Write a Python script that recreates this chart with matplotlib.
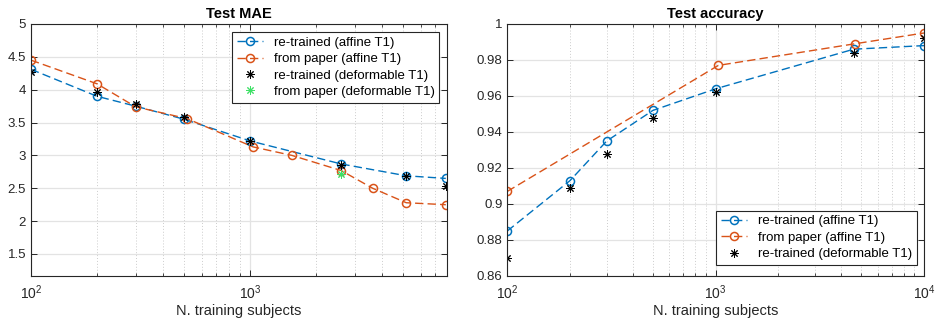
import math
import matplotlib
matplotlib.use("Agg")
import matplotlib.pyplot as plt
from matplotlib.ticker import FixedLocator, FuncFormatter, LogLocator, NullFormatter

plt.rcParams['font.family'] = ['Liberation Sans', 'DejaVu Sans']
plt.rcParams['mathtext.fontset'] = 'custom'
plt.rcParams['mathtext.rm'] = 'Liberation Sans'
plt.rcParams['mathtext.it'] = 'Liberation Sans'

# ---- Test MAE data ----
mae_x_retrained = [100, 200, 300, 500, 1000, 2600, 5150, 7800]
mae_retrained_affine = [4.31, 3.90, 3.75, 3.55, 3.22, 2.87, 2.69, 2.65]
mae_retrained_deform = [4.27, 3.97, 3.78, 3.58, 3.22, 2.86, 2.69, 2.53]
mae_x_paper = [100, 200, 300, 515, 1030, 1550, 2600, 3620, 5150, 7800]
mae_paper_affine = [4.45, 4.09, 3.74, 3.56, 3.13, 3.00, 2.77, 2.50, 2.28, 2.25]
mae_x_paper_deform = [2600]
mae_paper_deform = [2.72]

# ---- Test accuracy data ----
acc_x_retrained = [100, 200, 300, 500, 1000, 4600, 10000]
acc_retrained_affine = [0.885, 0.913, 0.935, 0.952, 0.964, 0.986, 0.988]
acc_retrained_deform = [0.870, 0.909, 0.928, 0.948, 0.962, 0.984, 0.992]
acc_x_paper = [100, 1030, 4650, 10000]
acc_paper_affine = [0.907, 0.977, 0.989, 0.995]

labels = ['re-trained (affine T1)', 'from paper (affine T1)',
          're-trained (deformable T1)', 'from paper (deformable T1)']

BLUE = '#0072BD'
ORANGE = '#D95319'
GREEN = '#3ee066'
AXC = '#262626'
FS = 9.5
DASH = (0, (6, 3))
STAR = (8, 2, 0)
LW = 1.0
MS_O = 5.8
MS_S = 6.0

fig = plt.figure(figsize=(9.37, 3.21), dpi=100)
ax1 = fig.add_axes([31/937, 1-276/321, 416/937, 252/321])
ax2 = fig.add_axes([507.3/937, 1-276/321, 416.7/937, 252/321])


def fmt_num(v, pos):
    return ('%.2f' % v).rstrip('0').rstrip('.')


def fmt_pow(v, pos):
    return r'$10^{%d}$' % round(math.log10(v))


def style(ax, yticks):
    ax.set_xscale('log')
    ax.set_facecolor('white')
    for sp in ax.spines.values():
        sp.set_color(AXC)
        sp.set_linewidth(0.8)
    ax.yaxis.set_major_locator(FixedLocator(yticks))
    ax.yaxis.set_major_formatter(FuncFormatter(fmt_num))
    ax.xaxis.set_major_locator(LogLocator(base=10))
    ax.xaxis.set_major_formatter(FuncFormatter(fmt_pow))
    ax.xaxis.set_minor_locator(LogLocator(base=10, subs=range(2, 10)))
    ax.xaxis.set_minor_formatter(NullFormatter())
    ax.tick_params(which='both', direction='in', top=True, right=True,
                   color=AXC, labelcolor=AXC, labelsize=FS)
    ax.tick_params(which='major', length=4, width=0.7)
    ax.tick_params(which='minor', length=2.5, width=0.6)
    ax.tick_params(axis='x', which='major', pad=5, labelsize=10)
    ax.grid(True, which='major', color='#e3e3e3', linewidth=0.9, linestyle='-')
    ax.grid(True, which='minor', axis='x', color='#cccccc', linewidth=0.7, linestyle=(0, (1, 2)))
    ax.set_axisbelow(True)
    ax.set_xlabel('N. training subjects', fontsize=10.5, color=AXC, labelpad=2)


def legend(ax, anchor, loc):
    leg = ax.legend(loc=loc, bbox_to_anchor=anchor, fontsize=FS, frameon=True,
                    fancybox=False, edgecolor=AXC, framealpha=1, borderpad=0.35,
                    labelspacing=0.32, handlelength=2.0, handletextpad=0.8,
                    borderaxespad=0.0)
    leg.get_frame().set_linewidth(0.8)
    return leg


# Left plot
ax1.plot(mae_x_retrained, mae_retrained_affine, linestyle=DASH, color=BLUE, lw=LW,
         marker='o', mfc='none', mec=BLUE, ms=MS_O, mew=1.1, label=labels[0])
ax1.plot(mae_x_paper, mae_paper_affine, linestyle=DASH, color=ORANGE, lw=LW,
         marker='o', mfc='none', mec=ORANGE, ms=MS_O, mew=1.1, label=labels[1])
ax1.plot(mae_x_retrained, mae_retrained_deform, linestyle='none', color='black',
         marker=STAR, ms=MS_S, mew=0.7, label=labels[2])
ax1.plot(mae_x_paper_deform, mae_paper_deform, linestyle='none', color=GREEN,
         marker=STAR, ms=MS_S, mew=0.7, label=labels[3])
style(ax1, [1.5, 2, 2.5, 3, 3.5, 4, 4.5, 5])
ax1.set_xlim(100, 7900)
ax1.set_ylim(1.165, 5)
ax1.set_title('Test MAE', fontsize=10.5, fontweight='bold', color='black', pad=4)
legend(ax1, (0.981, 0.969), 'upper right')

# Right plot
ax2.plot(acc_x_retrained, acc_retrained_affine, linestyle=DASH, color=BLUE, lw=LW,
         marker='o', mfc='none', mec=BLUE, ms=MS_O, mew=1.1, label=labels[0])
ax2.plot(acc_x_paper, acc_paper_affine, linestyle=DASH, color=ORANGE, lw=LW,
         marker='o', mfc='none', mec=ORANGE, ms=MS_O, mew=1.1, label=labels[1])
ax2.plot(acc_x_retrained, acc_retrained_deform, linestyle='none', color='black',
         marker=STAR, ms=MS_S, mew=0.7, label=labels[2])
style(ax2, [0.86, 0.88, 0.9, 0.92, 0.94, 0.96, 0.98, 1.0])
ax2.set_xlim(100, 10000)
ax2.set_ylim(0.86, 1.0)
ax2.set_title('Test accuracy', fontsize=10.5, fontweight='bold', color='black', pad=4)
legend(ax2, (0.9825, 0.044), 'lower right')

fig.savefig('out.png', dpi=100, facecolor='white')
